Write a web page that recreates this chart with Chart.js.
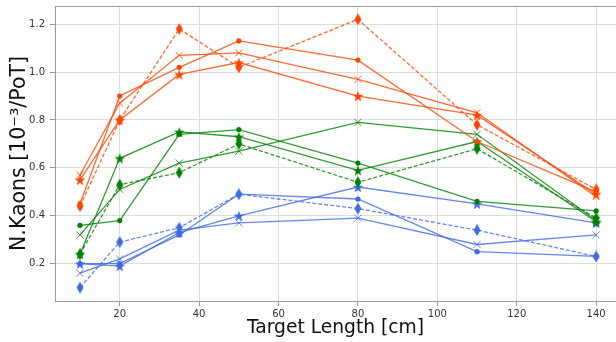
<!DOCTYPE html>
<html><head><meta charset="utf-8">
<script src="https://cdn.jsdelivr.net/npm/chart.js@4/dist/chart.umd.min.js"></script>
<style>html,body{margin:0;padding:0;background:#fff}#wrap{width:616px;height:342px;position:relative}</style>
</head><body><div id="wrap"><canvas id="c"></canvas></div>
<script>
const targetLength = [10, 20, 35, 50, 80, 110, 140];
const orangeCircle  = [0.45, 0.90, 1.02, 1.13, 1.05, 0.71, 0.50];
const orangeCross   = [0.57, 0.87, 1.07, 1.08, 0.97, 0.83, 0.48];
const orangeStar    = [0.55, 0.80, 0.99, 1.04, 0.90, 0.82, 0.49];
const orangeDiamond = [0.44, 0.80, 1.18, 1.02, 1.22, 0.78, 0.51];
const greenCircle   = [0.36, 0.38, 0.74, 0.76, 0.62, 0.46, 0.42];
const greenCross    = [0.32, 0.51, 0.62, 0.67, 0.79, 0.74, 0.38];
const greenStar     = [0.24, 0.64, 0.75, 0.73, 0.59, 0.71, 0.375];
const greenDiamond  = [0.24, 0.53, 0.58, 0.70, 0.54, 0.68, 0.39];
const blueCircle    = [0.20, 0.20, 0.32, 0.49, 0.47, 0.25, 0.23];
const blueCross     = [0.16, 0.22, 0.34, 0.37, 0.39, 0.28, 0.32];
const blueStar      = [0.20, 0.19, 0.33, 0.40, 0.52, 0.45, 0.37];
const blueDiamond   = [0.10, 0.29, 0.35, 0.49, 0.43, 0.34, 0.23];
const yTicks = [0.2, 0.4, 0.6, 0.8, 1.0, 1.2];
const xTicks = [20, 40, 60, 80, 100, 120, 140];

const COLORS = {orange: '#ff4500', green: '#008000', blue: '#4169e1'};
const LINE_COLORS = {orange: 'rgba(255,69,0,0.8)', green: 'rgba(0,128,0,0.8)', blue: 'rgba(65,105,225,0.8)'};

function makeStar(color) {
  const s = 12, c = document.createElement('canvas');
  c.width = s; c.height = s;
  const g = c.getContext('2d');
  g.fillStyle = color;
  g.beginPath();
  const R = 5.6, r = 2.3, cx = s/2, cy = s/2 + 0.6;
  for (let i = 0; i < 10; i++) {
    const a = -Math.PI/2 + i*Math.PI/5;
    const rr = i % 2 ? r : R;
    const x = cx + rr*Math.cos(a), y = cy + rr*Math.sin(a);
    i ? g.lineTo(x, y) : g.moveTo(x, y);
  }
  g.closePath(); g.fill();
  return c;
}
function makeDiamond(color) {
  const w = 8, h = 12, c = document.createElement('canvas');
  c.width = w; c.height = h;
  const g = c.getContext('2d');
  g.fillStyle = color;
  g.beginPath();
  g.moveTo(w/2, 0); g.lineTo(w-0.5, h/2); g.lineTo(w/2, h); g.lineTo(0.5, h/2);
  g.closePath(); g.fill();
  return c;
}

function series(values, col, marker) {
  const pts = targetLength.map((x, i) => ({x: x, y: values[i]}));
  const ds = {
    data: pts, borderColor: LINE_COLORS[col], borderWidth: 1.3, tension: 0,
    pointBackgroundColor: COLORS[col], pointBorderColor: COLORS[col], fill: false
  };
  if (marker === 'circle') { ds.pointStyle = 'circle'; ds.pointRadius = 2.6; ds.pointBorderWidth = 0; }
  if (marker === 'cross') { ds.pointStyle = 'crossRot'; ds.pointRadius = 5; ds.pointBorderWidth = 1; ds.pointBorderColor = LINE_COLORS[col]; }
  if (marker === 'star') { ds.pointStyle = makeStar(COLORS[col]); ds.pointRadius = 6; }
  if (marker === 'diamond') { ds.pointStyle = makeDiamond(COLORS[col]); ds.pointRadius = 6; ds.borderDash = [4, 2]; }
  return ds;
}

const datasets = [
  series(orangeCircle, 'orange', 'circle'),
  series(orangeCross, 'orange', 'cross'),
  series(orangeStar, 'orange', 'star'),
  series(orangeDiamond, 'orange', 'diamond'),
  series(greenCircle, 'green', 'circle'),
  series(greenCross, 'green', 'cross'),
  series(greenStar, 'green', 'star'),
  series(greenDiamond, 'green', 'diamond'),
  series(blueCircle, 'blue', 'circle'),
  series(blueCross, 'blue', 'cross'),
  series(blueStar, 'blue', 'star'),
  series(blueDiamond, 'blue', 'diamond')
];

const frame = {
  id: 'frame',
  afterDraw(chart) {
    const a = chart.chartArea, g = chart.ctx;
    g.save(); g.strokeStyle = '#9a9a9a'; g.lineWidth = 1;
    g.beginPath(); g.moveTo(a.left, a.top + 0.5); g.lineTo(a.right, a.top + 0.5); g.stroke();
    g.restore();
  }
};

Chart.defaults.font.family = 'DejaVu Sans';
new Chart(document.getElementById('c'), {
  type: 'line',
  data: {datasets},
  plugins: [frame],
  options: {
    responsive: true, maintainAspectRatio: false, animation: false,
    layout: {autoPadding: false, padding: {top: 6, right: 0, left: 0, bottom: 0}},
    plugins: {legend: {display: false}, tooltip: {enabled: false}},
    scales: {
      x: {
        type: 'linear', min: 3.7, max: 145,
        afterBuildTicks: s => { s.ticks = xTicks.map(v => ({value: v})); },
        afterFit: s => { s.height = 41; s.paddingLeft = 0; s.paddingRight = 0; },
        grid: {color: '#dddddd', lineWidth: 1, tickLength: 5, tickColor: '#9a9a9a'},
        border: {color: '#9a9a9a', width: 1},
        ticks: {color: '#333', font: {size: 10}, padding: 2, maxRotation: 0, callback: v => String(v)},
        title: {display: true, text: 'Target Length [cm]', color: '#111', font: {size: 18.7}, padding: {top: 0, bottom: 3}}
      },
      y: {
        type: 'linear', min: 0.044, max: 1.276,
        afterBuildTicks: s => { s.ticks = yTicks.map(v => ({value: v})); },
        afterFit: s => { s.width = 55; s.paddingTop = 0; s.paddingBottom = 0; },
        grid: {color: '#dddddd', lineWidth: 1, tickLength: 5, tickColor: '#9a9a9a'},
        border: {color: '#9a9a9a', width: 1},
        ticks: {color: '#333', font: {size: 10}, padding: 5, callback: v => v.toFixed(1)},
        title: {display: true, text: 'N.Kaons [10\u207B\u00B3/PoT]', color: '#111', font: {size: 20.5}, padding: {top: 7, bottom: 0}}
      }
    }
  }
});
</script></body></html>
